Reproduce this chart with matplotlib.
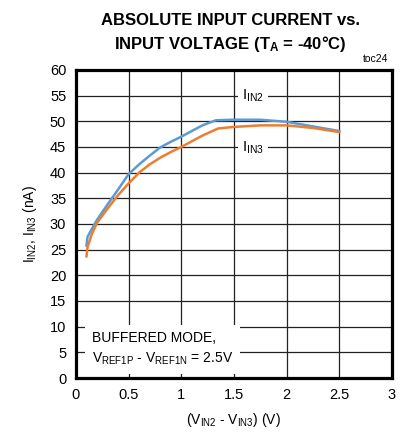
import numpy as np
import matplotlib
matplotlib.use("Agg")
import matplotlib.pyplot as plt

# data
vdiff2 = [0.10, 0.11, 0.15, 0.2, 0.3, 0.4, 0.5, 0.6, 0.7, 0.8, 0.9, 1.0, 1.1, 1.2, 1.33, 1.5, 1.75, 2.0, 2.25, 2.5]
i_in2 = [25.8, 27.5, 29.0, 30.8, 33.8, 36.7, 39.7, 41.6, 43.3, 44.9, 46.0, 47.0, 48.1, 49.2, 50.2, 50.3, 50.3, 49.9, 49.0, 48.1]
vdiff3 = [0.10, 0.11, 0.15, 0.2, 0.3, 0.4, 0.5, 0.6, 0.7, 0.8, 0.9, 1.0, 1.1, 1.2, 1.35, 1.5, 1.75, 2.0, 2.25, 2.5]
i_in3 = [23.7, 25.5, 28.0, 30.2, 33.0, 35.6, 37.9, 40.0, 41.6, 42.9, 44.0, 45.0, 46.1, 47.2, 48.6, 48.9, 49.2, 49.2, 48.7, 47.9]

xticks = [0, 0.5, 1, 1.5, 2, 2.5, 3]
xticklabels = ["0", "0.5", "1", "1.5", "2", "2.5", "3"]
yticks = list(range(0, 61, 5))

plt.rcParams['font.family'] = ['Liberation Sans', 'DejaVu Sans']
plt.rcParams['mathtext.fontset'] = 'custom'
plt.rcParams['mathtext.rm'] = 'Liberation Sans'
plt.rcParams['mathtext.it'] = 'Liberation Sans'
plt.rcParams['mathtext.bf'] = 'Liberation Sans:bold'

fig = plt.figure(figsize=(4.04, 4.37), dpi=100)
ax = fig.add_axes([0.188, 0.135, 0.782, 0.705])

ax.plot(vdiff2, i_in2, color='#5B9BD5', lw=1.8, zorder=3)
ax.plot(vdiff3, i_in3, color='#ED7D31', lw=1.8, zorder=3)

ax.set_xlim(0, 3)
ax.set_ylim(0, 60)
ax.set_xticks(xticks)
ax.set_xticklabels(xticklabels)
ax.set_yticks(yticks)
ax.tick_params(length=0, labelsize=10.5, pad=7)
ax.grid(True, color='#222222', lw=0.9)
ax.set_axisbelow(True)
for s in ax.spines.values():
    s.set_linewidth(2.3)

box = dict(facecolor='white', edgecolor='none', pad=3)
ax.text(1.68, 55, r'$\mathregular{I_{IN2}}$', ha='center', va='center', fontsize=10.5, bbox=box, zorder=4)
ax.text(1.68, 44.8, r'$\mathregular{I_{IN3}}$', ha='center', va='center', fontsize=10.5, bbox=box, zorder=4)
ax.text(0.15, 2.2, 'BUFFERED MODE,\n' + r'$\mathregular{V_{REF1P}}$ - $\mathregular{V_{REF1N}}$ = 2.5V',
        ha='left', va='bottom', fontsize=10, linespacing=1.45,
        bbox=dict(facecolor='white', edgecolor='none', pad=5), zorder=4)

ax.set_xlabel(r'($\mathregular{V_{IN2}}$ - $\mathregular{V_{IN3}}$) (V)', fontsize=10, labelpad=7)
ax.set_ylabel(r'$\mathregular{I_{IN2}}$, $\mathregular{I_{IN3}}$ (nA)', fontsize=10, labelpad=8)

fig.text(0.57, 0.954, 'ABSOLUTE INPUT CURRENT vs.', ha='center', va='center',
         fontsize=12, fontweight='bold')
fig.text(0.57, 0.900, r'INPUT VOLTAGE (T$\mathbf{_A}$ = -40°C)', ha='center', va='center',
         fontsize=12, fontweight='bold')
fig.text(0.962, 0.866, 'toc24', ha='right', va='center', fontsize=7.5)

fig.savefig('out.png', dpi=100)
